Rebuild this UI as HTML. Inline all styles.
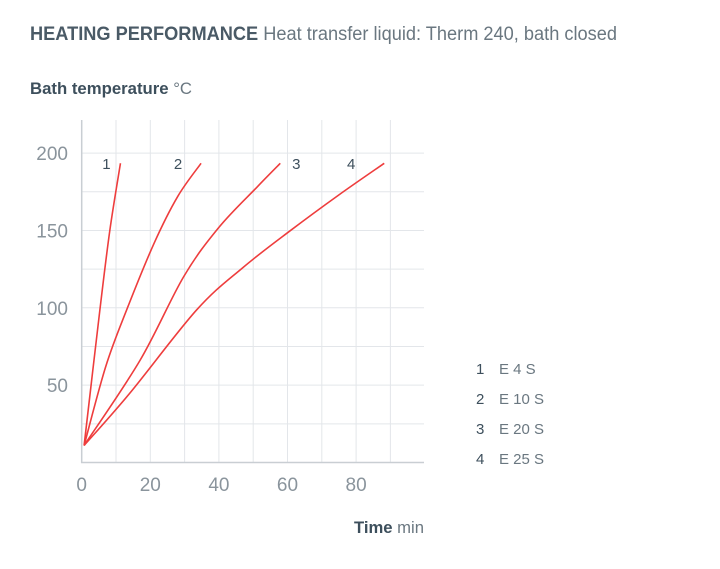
<!DOCTYPE html>
<html><head><meta charset="utf-8"><style>
html,body{margin:0;padding:0;background:#fff;}
svg{display:block;font-family:"Liberation Sans",sans-serif;}
</style></head><body>
<svg width="720" height="569" viewBox="0 0 720 569">
<text x="30" y="40" font-size="19" fill="#4a5a66" textLength="587" lengthAdjust="spacingAndGlyphs"><tspan font-weight="bold">HEATING PERFORMANCE</tspan> <tspan fill="#6a7780">Heat transfer liquid: Therm 240, bath closed</tspan></text>
<text x="30" y="94" font-size="17" fill="#3d4f5c" textLength="162" lengthAdjust="spacingAndGlyphs"><tspan font-weight="bold">Bath temperature</tspan> <tspan fill="#6a7780">°C</tspan></text>
<text x="354" y="533" font-size="17" fill="#3d4f5c" textLength="70" lengthAdjust="spacingAndGlyphs"><tspan font-weight="bold">Time</tspan> <tspan fill="#6a7780">min</tspan></text>
<g id="grid"></g><g id="axes"></g><g id="curves"></g><g id="labels"></g><g id="legend"></g>
</svg>
<script>
const xTicks=[0,20,40,60,80];
const yTicks=[50,100,150,200];
const seriesNames=["1","2","3","4"];
const legendLabels=["E 4 S","E 10 S","E 20 S","E 25 S"];
const s1t=[0.7,5.3,8.2,11.3];
const s1v=[11,98.6,150,193.4];
const s2t=[0.7,7,13.1,21.1,28,34.8];
const s2v=[11,62,98.6,141.7,172,193.4];
const s3t=[0.7,17,29.7,40,51.1,57.9];
const s3v=[11,66,120,152,178,193.4];
const s4t=[0.7,14.1,33.5,47,60.9,75,88.2];
const s4v=[11,45,98.6,126,150,173,193.4];
const seriesT=[s1t,s2t,s3t,s4t];
const seriesV=[s1v,s2v,s3v,s4v];
const NS="http://www.w3.org/2000/svg";
const X=t=>81.7+t*3.43;
const Y=v=>462.5-v*1.547;
function mk(tag,attrs,parent){const e=document.createElementNS(NS,tag);for(const k in attrs)e.setAttribute(k,attrs[k]);parent.appendChild(e);return e;}
const grid=document.getElementById('grid'),axes=document.getElementById('axes'),curves=document.getElementById('curves'),labels=document.getElementById('labels'),legend=document.getElementById('legend');
for(let t=10;t<=90;t+=10){const l=mk('line',{x1:X(t),x2:X(t),y1:120,y2:462,stroke:'#e3e6ea','stroke-width':1},grid);

}
for(let v=25;v<=200;v+=25){const l=mk('line',{x1:82,x2:424,y1:Y(v),y2:Y(v),stroke:'#e3e6ea','stroke-width':1},grid);

}
const ya=mk('line',{x1:81.7,x2:81.7,y1:120,y2:463,stroke:'#c9ced3','stroke-width':1.5},axes);


const xa=mk('line',{x1:81,x2:424,y1:462.5,y2:462.5,stroke:'#c9ced3','stroke-width':1.5},axes);


xTicks.forEach(t=>{const e=mk('text',{x:X(t),y:491,'font-size':19,fill:'#8a949c','text-anchor':'middle'},axes);e.textContent=t;

});
yTicks.forEach(v=>{const e=mk('text',{x:68,y:Y(v)+7,'font-size':19,fill:'#8a949c','text-anchor':'end'},axes);e.textContent=v;

});
function smooth(p){let d=`M${p[0][0]},${p[0][1]}`;for(let i=0;i<p.length-1;i++){const p0=p[i-1]||p[i],p1=p[i],p2=p[i+1],p3=p[i+2]||p2;
const c1=[p1[0]+(p2[0]-p0[0])/6,p1[1]+(p2[1]-p0[1])/6],c2=[p2[0]-(p3[0]-p1[0])/6,p2[1]-(p3[1]-p1[1])/6];
d+=` C${c1[0]},${c1[1]} ${c2[0]},${c2[1]} ${p2[0]},${p2[1]}`;}return d;}
seriesT.forEach((ts,i)=>{const pts=ts.map((t,j)=>[X(t),Y(seriesV[i][j])]);
const p=mk('path',{d:smooth(pts),fill:'none',stroke:'#ee3d3d','stroke-width':1.6},curves);


const last=pts[pts.length-1];const dx=[-14,-23,16,-33][i];
const lb=mk('text',{x:last[0]+dx,y:169,'font-size':15,fill:'#3d4f5c','text-anchor':'middle'},labels);lb.textContent=seriesNames[i];


const g=mk('g',{},legend);


const n=mk('text',{x:476,y:374+i*30,'font-size':15,fill:'#3d4f5c'},g);n.textContent=seriesNames[i];
const t=mk('text',{x:499,y:374+i*30,'font-size':15,fill:'#6a7780'},g);t.textContent=legendLabels[i];});
</script>
</body></html>
